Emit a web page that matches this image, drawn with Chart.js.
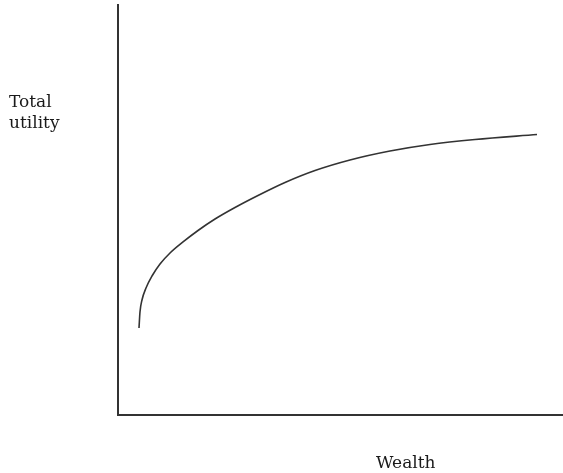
<!DOCTYPE html>
<html>
<head>
<meta charset="utf-8">
<script src="https://cdn.jsdelivr.net/npm/chart.js@4/dist/chart.umd.min.js"></script>
<style>
  html, body { margin:0; padding:0; background:#fff; }
  #wrap { position:relative; width:563px; height:473px; overflow:hidden; }
  canvas { position:absolute; left:0; top:0; }
  .lbl { position:absolute; font-family:"DejaVu Serif","Liberation Serif",serif; font-size:17px; line-height:20.5px; color:#1a1a1a; }
</style>
</head>
<body>
<div id="wrap">
  <canvas id="utilityChart" width="563" height="473"></canvas>
  <div class="lbl" style="left:9px; top:91px;">Total<br>utility</div>
  <div class="lbl" style="left:376px; top:452px;">Wealth</div>
</div>
<script>
// Total utility vs wealth (arbitrary 0-100 units)
const wealth  = [4.72, 4.94, 5.39, 6.29, 7.64, 9.44, 11.69, 14.61, 17.98, 21.80, 26.29, 31.46, 37.53, 44.27, 52.13, 61.12, 70.11, 80.22, 94.16];
const utility = [21.22, 25.12, 28.05, 30.98, 33.90, 36.83, 39.51, 42.20, 45.00, 47.80, 50.61, 53.54, 56.71, 59.63, 62.20, 64.39, 65.98, 67.20, 68.41];

const points = wealth.map((w,i)=>({x:w, y:utility[i]}));

const axisStyle = {
  type: 'linear',
  min: 0,
  max: 100,
  grid: { display:false, drawTicks:false },
  ticks: { display:false },
  border: { display:true, color:'#333', width:2 }
};

new Chart(document.getElementById('utilityChart').getContext('2d'), {
  type: 'line',
  data: {
    datasets: [{
      data: points,
      borderColor: '#333',
      borderWidth: 1.6,
      pointRadius: 0,
      fill: false,
      cubicInterpolationMode: 'monotone'
    }]
  },
  options: {
    responsive: false,
    animation: false,
    layout: { padding: { left:118, top:5, right:0, bottom:58 } },
    plugins: { legend:{display:false}, tooltip:{enabled:false} },
    scales: { x: axisStyle, y: axisStyle }
  }
});
</script>
</body>
</html>
